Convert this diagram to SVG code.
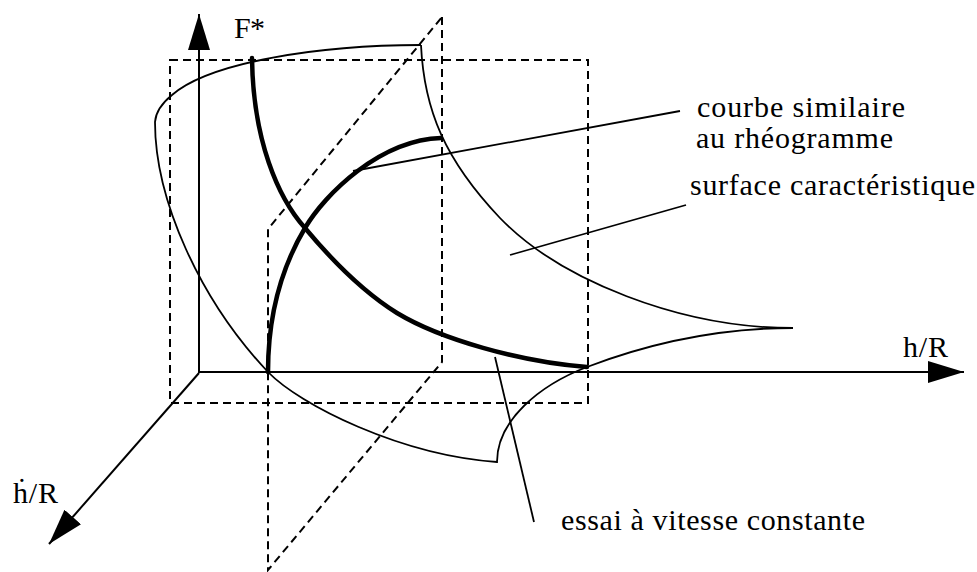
<svg xmlns="http://www.w3.org/2000/svg" width="977" height="572" viewBox="0 0 977 572">
<style>
.axis{stroke:#000;stroke-width:2;fill:none}
.dash{stroke:#000;stroke-width:2;fill:none;stroke-dasharray:8 5}
.thin{stroke:#000;stroke-width:1.8;fill:none}
.thick{stroke:#000;stroke-width:4.5;fill:none;stroke-linecap:round}
.lead{stroke:#000;stroke-width:1.8;fill:none}
.lbl{font-family:'Liberation Serif','Times New Roman',serif;font-size:30px;fill:#000}
</style>
<defs>
<marker id="arr" markerUnits="userSpaceOnUse" markerWidth="38" markerHeight="24" refX="36" refY="11" orient="auto">
<path d="M0,0 L36,11 L0,22 z" fill="#000"/>
</marker>
</defs>
<rect width="977" height="572" fill="#fff"/>
<g id="planes">
<rect class="dash" x="170" y="60" width="418" height="343"/>
<path class="dash" d="M442,17 L442,362 L268,570 L268,229 Z"/>
</g>
<g id="axes">
<line class="axis" x1="199" y1="373" x2="199" y2="14" marker-end="url(#arr)"/>
<line class="axis" x1="199" y1="372" x2="964" y2="372" marker-end="url(#arr)"/>
<line class="axis" x1="199" y1="373" x2="49" y2="544" marker-end="url(#arr)"/>
</g>
<g id="surface">
<path class="thin" d="M421,45 C320,45 210,62 172,95 Q156,108 155,122 C155,200 200,300 268,372 C300,405 400,455 497,462 C497,420 540,385 587,367 C650,343 720,328 793,328"/>
<path class="thin" d="M421,45 C424,110 445,160 500,218 C560,280 680,328 793,328"/>
</g>
<g id="curves">
<path class="thick" d="M252,58 C253,140 278,198 305,228 C330,258 360,290 397,313 C440,339 520,362 587,367"/>
<path class="thick" d="M268,372 C268,320 280,270 305,228 C325,194 380,140 441,138"/>
</g>
<g id="connectors">
<line class="lead" x1="353" y1="171" x2="680" y2="111"/>
<line class="lead" x1="510" y1="255" x2="686" y2="205"/>
<line class="lead" x1="495" y1="357" x2="534" y2="522"/>
</g>
<g id="labels">
<text class="lbl" x="234" y="38" textLength="31">F*</text>
<text class="lbl" x="903" y="357" textLength="45">h/R</text>
<text class="lbl" x="13" y="503" textLength="45">ḣ/R</text>
<text class="lbl" x="697" y="117" textLength="208">courbe similaire</text>
<text class="lbl" x="696" y="148" textLength="197">au rhéogramme</text>
<text class="lbl" x="690" y="195" textLength="285">surface caractéristique</text>
<text class="lbl" x="561" y="530" textLength="304">essai à vitesse constante</text>
</g>
</svg>
